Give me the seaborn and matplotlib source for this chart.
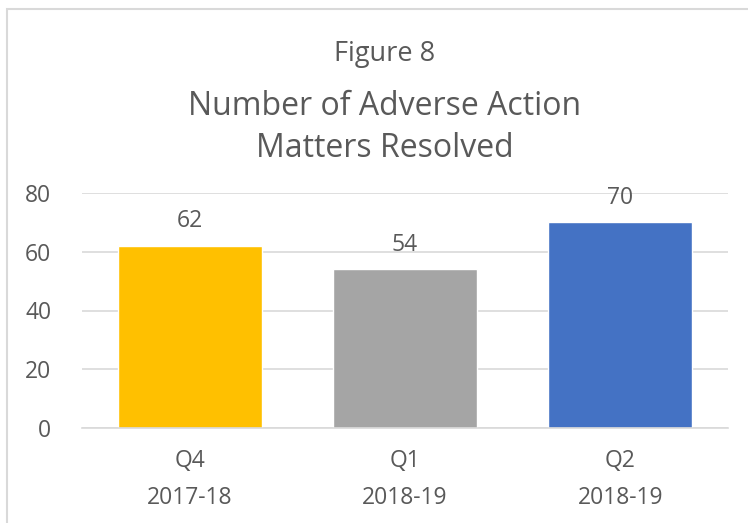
import matplotlib
matplotlib.use('Agg')
import matplotlib.pyplot as plt
import seaborn as sns
import pandas as pd
from matplotlib.patches import Rectangle

# chart data
quarters = ["Q4\n2017-18", "Q1\n2018-19", "Q2\n2018-19"]
matters = [62, 54, 70]
bar_colors = ["#FFC000", "#A5A5A5", "#4472C4"]

sns.set_theme(style="white")
plt.rcParams['font.family'] = ['Open Sans', 'DejaVu Sans']
text_color = "#595959"

df = pd.DataFrame({"quarter": quarters, "matters": matters})

fig = plt.figure(figsize=(7.48, 5.23), dpi=100)
ax = fig.add_axes([82 / 748, 1 - 428 / 523, 646 / 748, 235 / 523])

sns.barplot(data=df, x="quarter", y="matters", hue="quarter", palette=bar_colors,
            width=0.67, legend=False, ax=ax, saturation=1)

ax.set_ylim(0, 80)
ax.set_yticks([0, 20, 40, 60, 80])
ax.set_xlim(-0.5, 2.5)
ax.yaxis.grid(True, color="#D9D9D9", linewidth=1.2)
ax.set_axisbelow(True)
for s in ["top", "right", "left"]:
    ax.spines[s].set_visible(False)
ax.spines["bottom"].set_color("#D9D9D9")
ax.spines["bottom"].set_linewidth(1.2)
ax.tick_params(axis="both", length=0, labelsize=16.5, colors=text_color)
ax.tick_params(axis="y", pad=22)
ax.tick_params(axis="x", pad=15)
for lbl in ax.get_xticklabels():
    lbl.set_linespacing(1.75)
ax.set_xlabel("")
ax.set_ylabel("")

# value labels
for cont in ax.containers:
    ax.bar_label(cont, padding=9, fontsize=16.5, color=text_color)

# titles
cx = 0.514
fig.text(cx, 1 - 61 / 523, "Figure 8", ha="center", va="baseline", fontsize=19.5, color=text_color)
fig.text(cx, 1 - 115 / 523, "Number of Adverse Action", ha="center", va="baseline", fontsize=23, color=text_color)
fig.text(cx, 1 - 157 / 523, "Matters Resolved", ha="center", va="baseline", fontsize=23, color=text_color)

# chart border
fig.patches.append(Rectangle((7 / 748, -0.05), 1.2, 1 - 9 / 523 + 0.05, transform=fig.transFigure,
                             fill=False, edgecolor="#D9D9D9", linewidth=1.5))

fig.savefig("out.png", dpi=100)
